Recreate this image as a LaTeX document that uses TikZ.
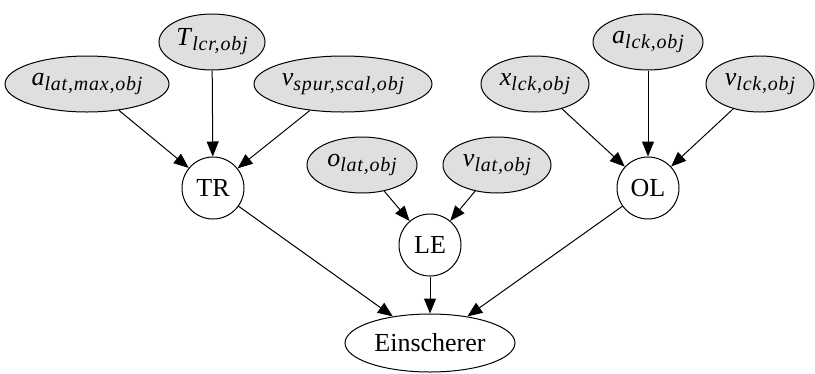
\documentclass[tikz,border=0pt]{standalone}
\usepackage{fontspec}
\setmainfont{Liberation Serif}
\usetikzlibrary{shapes.geometric,arrows.meta}
\newcommand\lbl[2]{\textit{#1}\raisebox{-5pt}{\fontsize{20}{20}\selectfont\itshape\addfontfeature{LetterSpace=4}#2}}
\tikzset{
  base/.style={draw=black, line width=1pt, inner sep=0pt, font=\rmfamily\fontsize{26}{30}\selectfont},
  var/.style={base, ellipse, fill=gray!25, minimum height=56pt},
  circ/.style={base, circle, fill=white, minimum size=62pt},
  outv/.style={base, ellipse, fill=white, minimum width=170pt, minimum height=58pt},
  edge/.style={draw=black, line width=1pt, -{Triangle[length=15pt,width=12pt]}}
}
\begin{document}
\begin{tikzpicture}[x=1pt,y=-1pt]
\useasboundingbox (0,0) rectangle (815,373);
\node[var, minimum width=164pt] (alat) at (87,84) {\lbl{a}{lat,max,obj}};
\node[var, minimum width=106pt] (tlcr) at (212,42) {\lbl{T}{lcr,obj}};
\node[var, minimum width=178pt] (vspur) at (343,84) {\lbl{v}{spur,scal,obj}};
\node[circ] (tr) at (213,188) {TR};
\node[var, minimum width=110pt] (olat) at (362,165) {\lbl{o}{lat,obj}};
\node[var, minimum width=108pt] (vlat) at (497,165) {\lbl{v}{lat,obj}};
\node[circ] (le) at (430,245) {LE};
\node[outv] (ein) at (430,343) {Einscherer};
\node[circ] (ol) at (648,188) {OL};
\node[var, minimum width=108pt] (xlck) at (535,84) {\lbl{x}{lck,obj}};
\node[var, minimum width=110pt] (alck) at (648,42) {\lbl{a}{lck,obj}};
\node[var, minimum width=108pt] (vlck) at (760,84) {\lbl{v}{lck,obj}};
\draw[edge] (alat) -- (tr);
\draw[edge] (tlcr) -- (tr);
\draw[edge] (vspur) -- (tr);
\draw[edge] (olat) -- (le);
\draw[edge] (vlat) -- (le);
\draw[edge] (xlck) -- (ol);
\draw[edge] (alck) -- (ol);
\draw[edge] (vlck) -- (ol);
\draw[edge] (tr) -- (ein);
\draw[edge] (le) -- (ein);
\draw[edge] (ol) -- (ein);
\end{tikzpicture}
\end{document}
